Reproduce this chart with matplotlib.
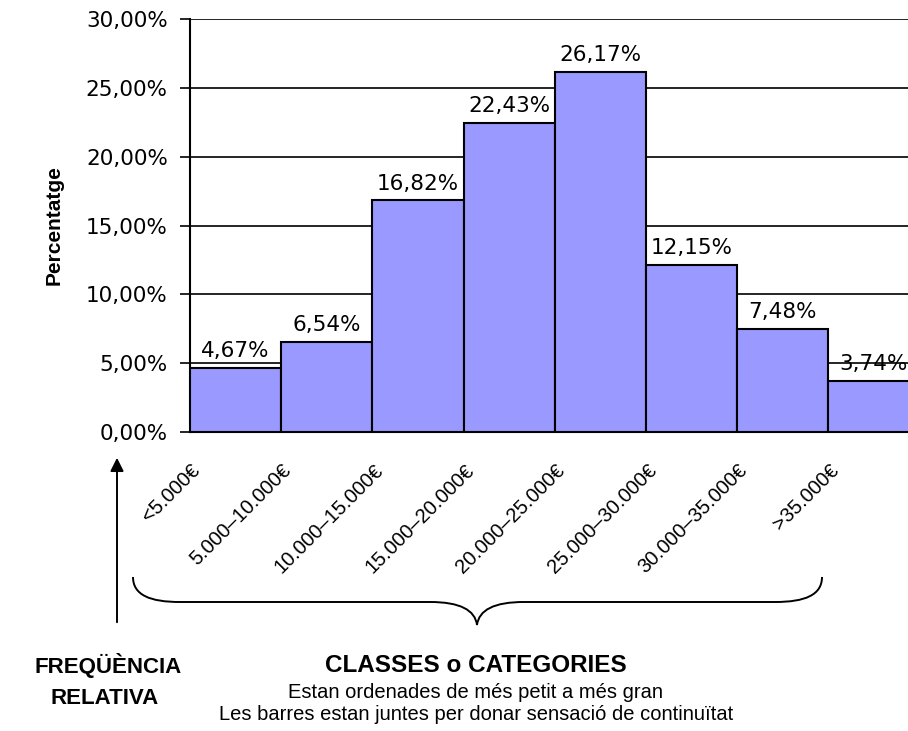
import matplotlib
matplotlib.use("Agg")
import matplotlib.pyplot as plt
from matplotlib.path import Path
from matplotlib.patches import PathPatch
import matplotlib.transforms as mtransforms

# ---- data ----
categories = ["<5.000€", "5.000–10.000€", "10.000–15.000€", "15.000–20.000€",
              "20.000–25.000€", "25.000–30.000€", "30.000–35.000€", ">35.000€"]
values = [4.67, 6.54, 16.82, 22.43, 26.17, 12.15, 7.48, 3.74]
yticks = [0, 5, 10, 15, 20, 25, 30]
ytick_labels = [f"{v:.2f}%".replace(".", ",") for v in yticks]
value_labels = [f"{v:.2f}%".replace(".", ",") for v in values]

W, H = 908, 731
fig = plt.figure(figsize=(W / 100, H / 100), dpi=100)
fig.patch.set_facecolor("white")

ax = fig.add_axes([190 / W, (H - 432) / H, 729.6 / W, 413 / H])
x = [i + 0.5 for i in range(len(values))]
ax.bar(x, values, width=1.0, color="#9999FF", edgecolor="black", linewidth=1.5, zorder=3)
ax.set_xlim(0, len(values))
ax.set_ylim(0, 30)
ax.set_yticks(yticks)
ax.set_yticklabels(ytick_labels, fontfamily="DejaVu Sans", fontsize=15.5)
ax.set_xticks([])
ax.yaxis.grid(True, color="black", linewidth=1.2, zorder=0)
ax.set_axisbelow(True)
for s in ["top", "right"]:
    ax.spines[s].set_visible(False)
for s in ["left", "bottom"]:
    ax.spines[s].set_linewidth(1.5)
    ax.spines[s].set_color("black")
ax.tick_params(axis="y", length=7, width=1.2, direction="out", pad=9, colors="black")

ax.set_ylabel("Percentatge", fontfamily="Liberation Sans", fontweight="bold", fontsize=15)
ax.yaxis.set_label_coords(-0.186, 0.5)
ax.yaxis.label.set_va("center")

# value labels above bars
for xi, v, lab in zip(x, values, value_labels):
    ax.annotate(lab, (xi, v), xytext=(0, 5), textcoords="offset points",
                ha="center", va="bottom", fontfamily="DejaVu Sans", fontsize=15.5,
                zorder=4, annotation_clip=False)

# rotated category labels
trans = mtransforms.blended_transform_factory(ax.transData, ax.transAxes)
for i, lab in enumerate(categories):
    ax.text(i + 0.08, -0.085, lab, transform=trans, rotation=45, rotation_mode="anchor",
            ha="right", va="center", fontfamily="Liberation Sans", fontsize=14.5,
            clip_on=False)

# overlay in pixel coordinates for brace, arrow, and captions
ov = fig.add_axes([0, 0, 1, 1])
ov.set_xlim(0, W)
ov.set_ylim(H, 0)
ov.axis("off")

verts = [
    (133, 577),
    (133, 595), (150, 602), (180, 602),
    (430, 602),
    (460, 602), (475, 610), (477, 625),
    (479, 610), (494, 602), (524, 602),
    (775, 602),
    (805, 602), (822, 595), (822, 577),
]
codes = [Path.MOVETO,
         Path.CURVE4, Path.CURVE4, Path.CURVE4,
         Path.LINETO,
         Path.CURVE4, Path.CURVE4, Path.CURVE4,
         Path.CURVE4, Path.CURVE4, Path.CURVE4,
         Path.LINETO,
         Path.CURVE4, Path.CURVE4, Path.CURVE4]
ov.add_patch(PathPatch(Path(verts, codes), facecolor="none", edgecolor="black", lw=1.4))

ov.annotate("", xy=(117, 455), xytext=(117, 625),
            arrowprops=dict(arrowstyle="-|>", color="black", lw=1.4, mutation_scale=20))

bold_big = dict(fontfamily="Liberation Sans", fontweight="bold", fontsize=17.5, ha="center", va="center")
bold = dict(fontfamily="Liberation Sans", fontweight="bold", fontsize=16, ha="center", va="center")
reg = dict(fontfamily="Liberation Sans", fontsize=14.5, ha="center", va="center")
ov.text(108, 665, "FREQÜÈNCIA", **bold)
ov.text(105, 698, "RELATIVA", **bold)
ov.text(476, 665, "CLASSES o CATEGORIES", **bold_big)
ov.text(476, 692, "Estan ordenades de més petit a més gran", **reg)
ov.text(476, 715, "Les barres estan juntes per donar sensació de continuïtat", **reg)

fig.savefig("out.png", dpi=100)
